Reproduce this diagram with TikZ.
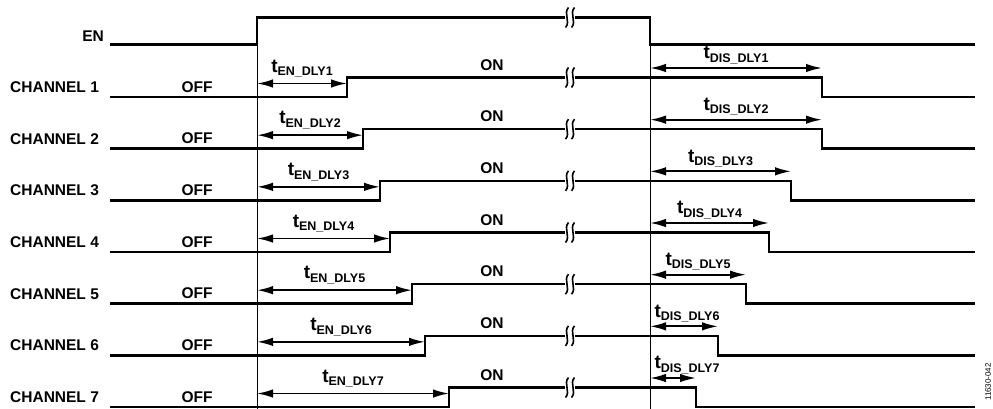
\documentclass[tikz,border=0pt]{standalone}
\usepackage{fontspec}
\setmainfont{Liberation Sans}
\usetikzlibrary{arrows.meta}
\newcommand\tdly[1]{{\fontsize{19}{20}\selectfont t}\raisebox{-3.5pt}{\fontsize{12.5}{13}\selectfont #1}}
% two wavy strokes over a trace
\newcommand\sigbreak[2]{%
  \fill[white] ({#1-5},{#2-4}) rectangle ({#1+5},{#2+4});
  \draw[line width=1.6pt] ({#1-1.5},{#2-10}) .. controls ({#1-7},{#2-4}) and ({#1+1},{#2+4}) .. ({#1-4.5},{#2+10});
  \draw[line width=1.6pt] ({#1+4.5},{#2-10}) .. controls ({#1-1},{#2-4}) and ({#1+7},{#2+4}) .. ({#1+1.5},{#2+10});
}

\begin{document}
\begin{tikzpicture}[x=1pt, y=-1pt,
    sigline/.style={line width=2.6pt},
    guide/.style={line width=0.9pt},
    dlyarrow/.style={line width=1.8pt, {Latex[length=16pt,width=8.5pt]}-{Latex[length=16pt,width=8.5pt]}},
    lbl/.style={font=\bfseries\fontsize{15.5}{18}\selectfont, inner sep=0pt}]
  \useasboundingbox (0,0) rectangle (993,409);

  % guides
  \draw[guide] (257,17.5) -- (257,409);
  \draw[guide] (650,17.5) -- (650,409);

  % EN
  \node[lbl, anchor=east] (enname) at (104,36) {EN};
  \draw[sigline] (110,44.5) -- (257,44.5) -- (257,17.5) -- (650,17.5) -- (650,44.5) -- (975,44.5);
  \sigbreak{570}{17.5}

  % channels
  \foreach \k/\rx/\fx in {1/347/822, 2/363/822, 3/380/791, 4/390/769, 5/412/746, 6/425/718, 7/449/696} {
    \pgfmathsetmacro\lo{97+51.67*(\k-1)}
    \pgfmathsetmacro\hi{\lo-19.5}
    \pgfmathsetmacro\ay{\lo-13.5}
    \pgfmathsetmacro\dy{\hi-9.5}
    \pgfmathsetmacro\ex{(257+\rx)/2}
    \pgfmathsetmacro\dx{max((650+\fx)/2,687)}
    \node[lbl, anchor=west] (chname\k) at (10,{\lo-10}) {CHANNEL \k};
    \node[lbl, anchor=south] (off\k) at (197,{\lo-4.5}) {OFF};
    \node[lbl, anchor=south] (on\k) at (492,{\hi-7}) {ON};
    \draw[sigline] (110,\lo) -- (\rx,\lo) -- (\rx,\hi) -- (\fx,\hi) -- (\fx,\lo) -- (975,\lo);
    \sigbreak{570}{\hi}
    \coordinate (ens\k) at (257,\ay);
    \coordinate (ene\k) at (\rx,\ay);
    \coordinate (diss\k) at (650,\dy);
    \coordinate (dise\k) at (\fx,\dy);
    \draw[dlyarrow] (ens\k) -- (ene\k);
    \draw[dlyarrow] (diss\k) -- (dise\k);
    \node[lbl, anchor=south] (enlbl\k) at (\ex,{\ay-6}) {\tdly{EN\_DLY\k}};
    \node[lbl, anchor=south] (dislbl\k) at (\dx,{\dy-4}) {\tdly{DIS\_DLY\k}};
  }

  \node[rotate=90, font=\fontsize{8}{9}\selectfont, inner sep=0pt] (figid) at (988,382) {11630-042};
\end{tikzpicture}
\end{document}
